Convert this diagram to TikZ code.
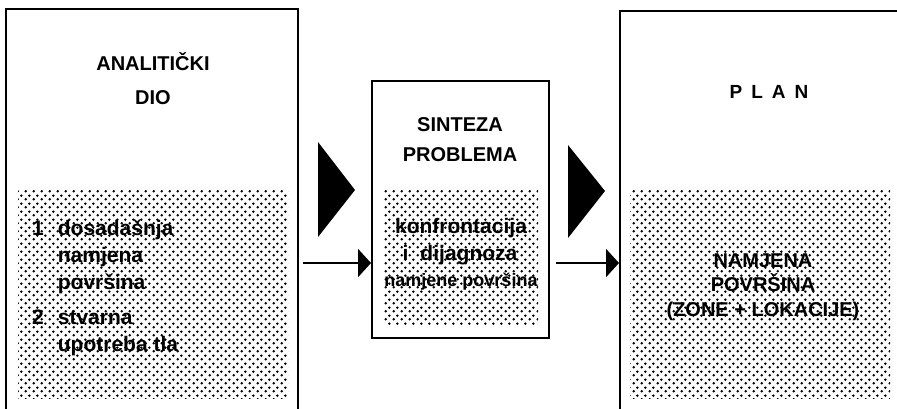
\documentclass[tikz,border=0pt]{standalone}
\usepackage{fontspec}
\setmainfont{Liberation Sans}
\usetikzlibrary{patterns,arrows.meta}
\pgfdeclarepatternformonly{halftone}{\pgfqpoint{0pt}{0pt}}{\pgfqpoint{8pt}{8pt}}{\pgfqpoint{8pt}{8pt}}{%
  \pgfpathcircle{\pgfqpoint{2pt}{2pt}}{1.5pt}%
  \pgfpathcircle{\pgfqpoint{6pt}{6pt}}{1.5pt}%
  \pgfusepath{fill}}
\tikzset{
  frame/.style={draw=black, line width=2.4pt, fill=white, anchor=north west, inner sep=0pt},
  dots/.style={pattern=halftone, pattern color=black, anchor=north west, inner sep=0pt, draw=none},
  title/.style={font=\bfseries\fontsize{20}{30}\selectfont, align=center, inner sep=0pt},
  body/.style={font=\bfseries\fontsize{21}{27}\selectfont, align=center, inner sep=0pt},
  flow/.style={line width=2.2pt, -{Triangle[length=13pt,width=28pt]}},
  bigtri/.style={fill=black}
}
\begin{document}
\begin{tikzpicture}[x=1pt,y=-1pt]
\useasboundingbox (0,0) rectangle (897,408);
\clip (0,0) rectangle (897,408);
% boxes
\node[frame, minimum width=292pt, minimum height=430pt] (ana) at (5,8) {};
\node[frame, minimum width=177pt, minimum height=257pt] (syn) at (371,80) {};
\node[frame, minimum width=300pt, minimum height=430pt] (plan) at (619,10) {};
% dotted regions
\node[dots, minimum width=270pt, minimum height=208pt] (anad) at (18,190) {};
\node[dots, minimum width=155pt, minimum height=134pt] (synd) at (383,190) {};
\node[dots, minimum width=260pt, minimum height=208pt] (pland) at (630,190) {};
% titles
\node[title] (t1) at (153,62) {ANALITIČKI};
\node[title] (t2) at (153,98) {DIO};
\node[title] (t3) at (460,125) {SINTEZA};
\node[title] (t4) at (460,155) {PROBLEMA};
\node[title, font=\bfseries\fontsize{19}{24}\selectfont] (t5) at (769,92) {P\hspace{9pt}L\hspace{9pt}A\hspace{9pt}N};
% left list
\node[anchor=west, inner sep=0pt, font=\bfseries\fontsize{21}{27}\selectfont] (list) at (32,288.5) {%
  \begin{tabular}{@{}l@{\hspace{14pt}}l@{}}
  1 & dosadašnja\\
    & namjena\\
    & površina\\[8pt]
  2 & stvarna\\
    & upotreba tla
  \end{tabular}};
% middle text
\node[body] (m1) at (461,228) {konfrontacija};
\node[body] (m2) at (460,255) {i\hspace{12pt}dijagnoza};
\node[body, font=\bfseries\fontsize{18}{24}\selectfont] (m3) at (461,282) {namjene površina};
% right text
\node[title, font=\bfseries\fontsize{20}{24.5}\selectfont] (r1) at (763,287) {NAMJENA\\POVRŠINA\\(ZONE + LOKACIJE)};
% big triangles
\fill[bigtri] (318,142) -- (355,190) -- (318,237) -- cycle;
\fill[bigtri] (568,145) -- (605,191) -- (568,238) -- cycle;
% arrows
\coordinate (a1) at (303,263);
\coordinate (a2) at (556,263);
\draw[flow] (a1) -- (syn.west |- a1);
\draw[flow] (a2) -- (plan.west |- a2);
\end{tikzpicture}
\end{document}
